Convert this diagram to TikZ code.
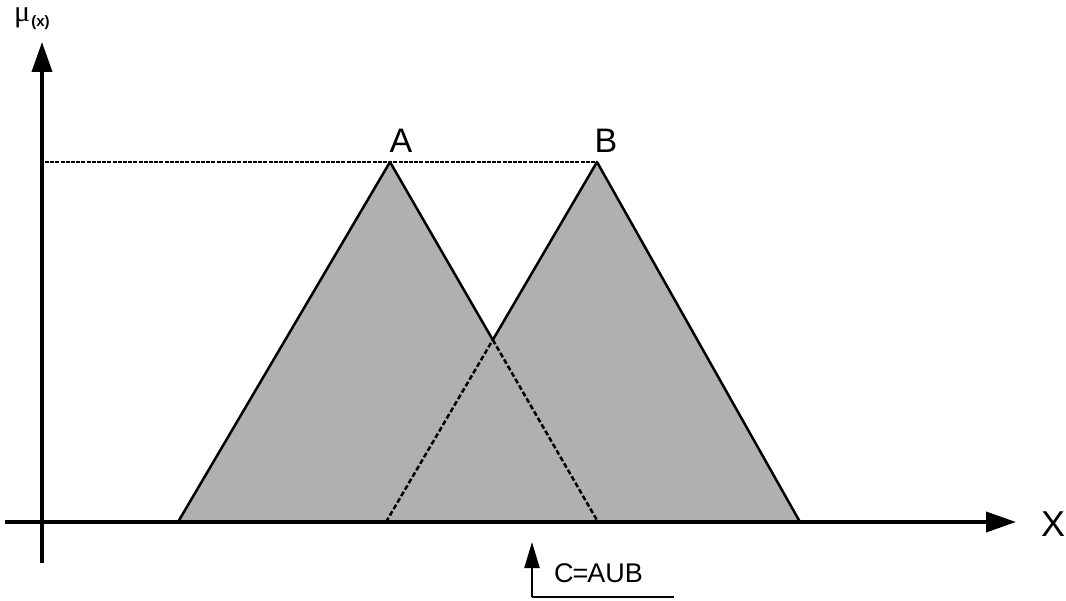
\documentclass[tikz,border=0pt]{standalone}
\usepackage{fontspec}
\setmainfont{Liberation Sans}
\newfontfamily\serifmu{Liberation Serif}
\newfontfamily\sansbold{Liberation Sans Bold}
\usetikzlibrary{arrows.meta}
\definecolor{fillgray}{gray}{0.69}
\tikzset{
  axis/.style={line width=3.8pt, -{Triangle[length=30pt,width=20pt]}},
  edge/.style={line width=2.5pt, line join=round},
  dashedge/.style={line width=2.5pt, dash pattern=on 5pt off 2.5pt},
  guide/.style={line width=2pt, dash pattern=on 4pt off 1.2pt},
  lbl/.style={font=\fontsize{34}{34}\selectfont, inner sep=0pt, anchor=base},
}
\begin{document}
\begin{tikzpicture}[x=1pt,y=-1pt]
\useasboundingbox (0,0) rectangle (1066,601);
% key points
\coordinate (Aapex) at (390,162);
\coordinate (Aleft) at (178,522);
\coordinate (Aright) at (598,522);
\coordinate (Bapex) at (597,162);
\coordinate (Bleft) at (386,522);
\coordinate (Bright) at (800,522);
\coordinate (I) at (492.8,339.9);
\coordinate (yaxbot) at (42,563);
\coordinate (yaxtop) at (42,42);
\coordinate (xaxl) at (5,522);
\coordinate (xaxr) at (1016,522);
\coordinate (guideL) at (45,162);
% fills
\fill[fillgray] (Aleft) -- (Aapex) -- (I) -- (Bapex) -- (Bright) -- cycle;
% axes
\draw[axis] (yaxbot) -- (yaxtop);
\draw[axis] (xaxl) -- (xaxr);
% guide
\draw[guide] (guideL) -- (Bapex);
% triangle edges
\draw[edge] (Aleft) -- (Aapex) -- (I) -- (Bapex) -- (Bright);
\draw[dashedge] (I) -- (Aright);
\draw[dashedge] (Bleft) -- (I);
% labels
\node[lbl] (A) at (401,153) {A};
\node[lbl] (B) at (606,153) {B};
\node[lbl, font=\fontsize{36}{36}\selectfont] (X) at (1053,536) {X};
\node[inner sep=0pt, anchor=base west] (mu) at (14,22) {\serifmu\fontsize{30}{30}\selectfont μ\kern1pt\raisebox{-5pt}{\sansbold\fontsize{15}{15}\selectfont (x)}};
% C=AUB
\coordinate (Cbot) at (532,597);
\coordinate (Ctop) at (532,542);
\coordinate (Cend) at (674,597);
\draw[line width=2.2pt] (Cbot) -- (Cend);
\draw[line width=2.2pt, -{Triangle[length=26pt,width=15pt]}] (Cbot) -- (Ctop);
\node[lbl, font=\fontsize{27}{27}\selectfont, anchor=base west] (C) at (554,582) {C\kern-1pt=\kern-1ptAUB};
\end{tikzpicture}
\end{document}
